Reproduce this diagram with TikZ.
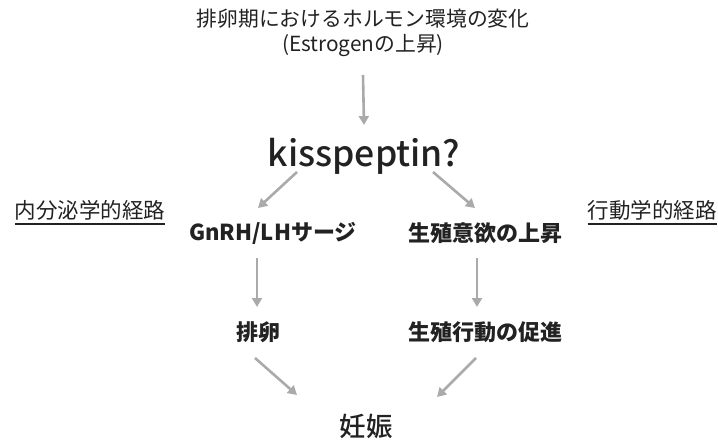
\documentclass[tikz,border=0pt]{standalone}
\usepackage{fontspec}
\setmainfont{Noto Sans CJK JP}
\newfontfamily\medfont{Noto Sans CJK JP Medium}
\usetikzlibrary{arrows.meta,calc}
\definecolor{txt}{HTML}{222222}
\definecolor{arr}{HTML}{AAAAAA}
\tikzset{
  lbl/.style={inner sep=0pt, outer sep=0pt, text=txt, anchor=center},
  boldlbl/.style={lbl, font=\fontsize{22}{26}\selectfont\bfseries},
  side/.style={lbl, font=\fontsize{21.5}{26}\selectfont},
  conn/.style={draw=arr, line width=2.6pt, -{Triangle[width=10pt,length=9pt]}},
}
\begin{document}
\begin{tikzpicture}[x=1pt,y=-1pt]
\useasboundingbox (0,0) rectangle (718,441);
\node[lbl, align=center, font=\fontsize{20.8}{24.5}\selectfont] (title) at (363,33) {排卵期におけるホルモン環境の変化\\(Estrogenの上昇)};
\node[lbl, font=\fontsize{35.5}{40}\medfont, anchor=base] (kiss) at (364,167) {kisspeptin?};
\node[boldlbl] (gnrh) at (273,233) {GnRH/LHサージ};
\node[boldlbl] (yoku) at (485,233) {生殖意欲の上昇};
\node[boldlbl] (hairan) at (258,332) {排卵};
\node[boldlbl] (koudou) at (485,332) {生殖行動の促進};
\node[lbl, font=\fontsize{26.5}{30}\medfont] (nin) at (366,426) {妊娠};
\node[side] (naibun) at (90,210) {内分泌学的経路};
\node[side] (koudoug) at (652,210) {行動学的経路};
\draw[txt, line width=1.5pt] ([yshift=-4pt]naibun.south west) -- ([yshift=-4pt]naibun.south east);
\draw[txt, line width=1.5pt] ([yshift=-4pt]koudoug.south west) -- ([yshift=-4pt]koudoug.south east);
\draw[conn] ($(title)+(0,42)$) -- ($(kiss.base)+(0,-42)$);
\draw[conn] ($(kiss.base)+(-67,5)$) -- ($(gnrh)+(-15,-25)$);
\draw[conn] ($(kiss.base)+(69,5)$) -- ($(yoku)+(-10,-25)$);
\draw[conn] ($(gnrh)+(-16,25)$) -- ($(hairan)+(-1,-25)$);
\draw[conn] ($(yoku)+(-8,25)$) -- ($(koudou)+(-8,-25)$);
\draw[conn] ($(hairan)+(-3,26)$) -- ($(nin)+(-69,-31)$);
\draw[conn] ($(koudou)+(-9,26)$) -- ($(nin)+(71,-29)$);
\end{tikzpicture}
\end{document}
